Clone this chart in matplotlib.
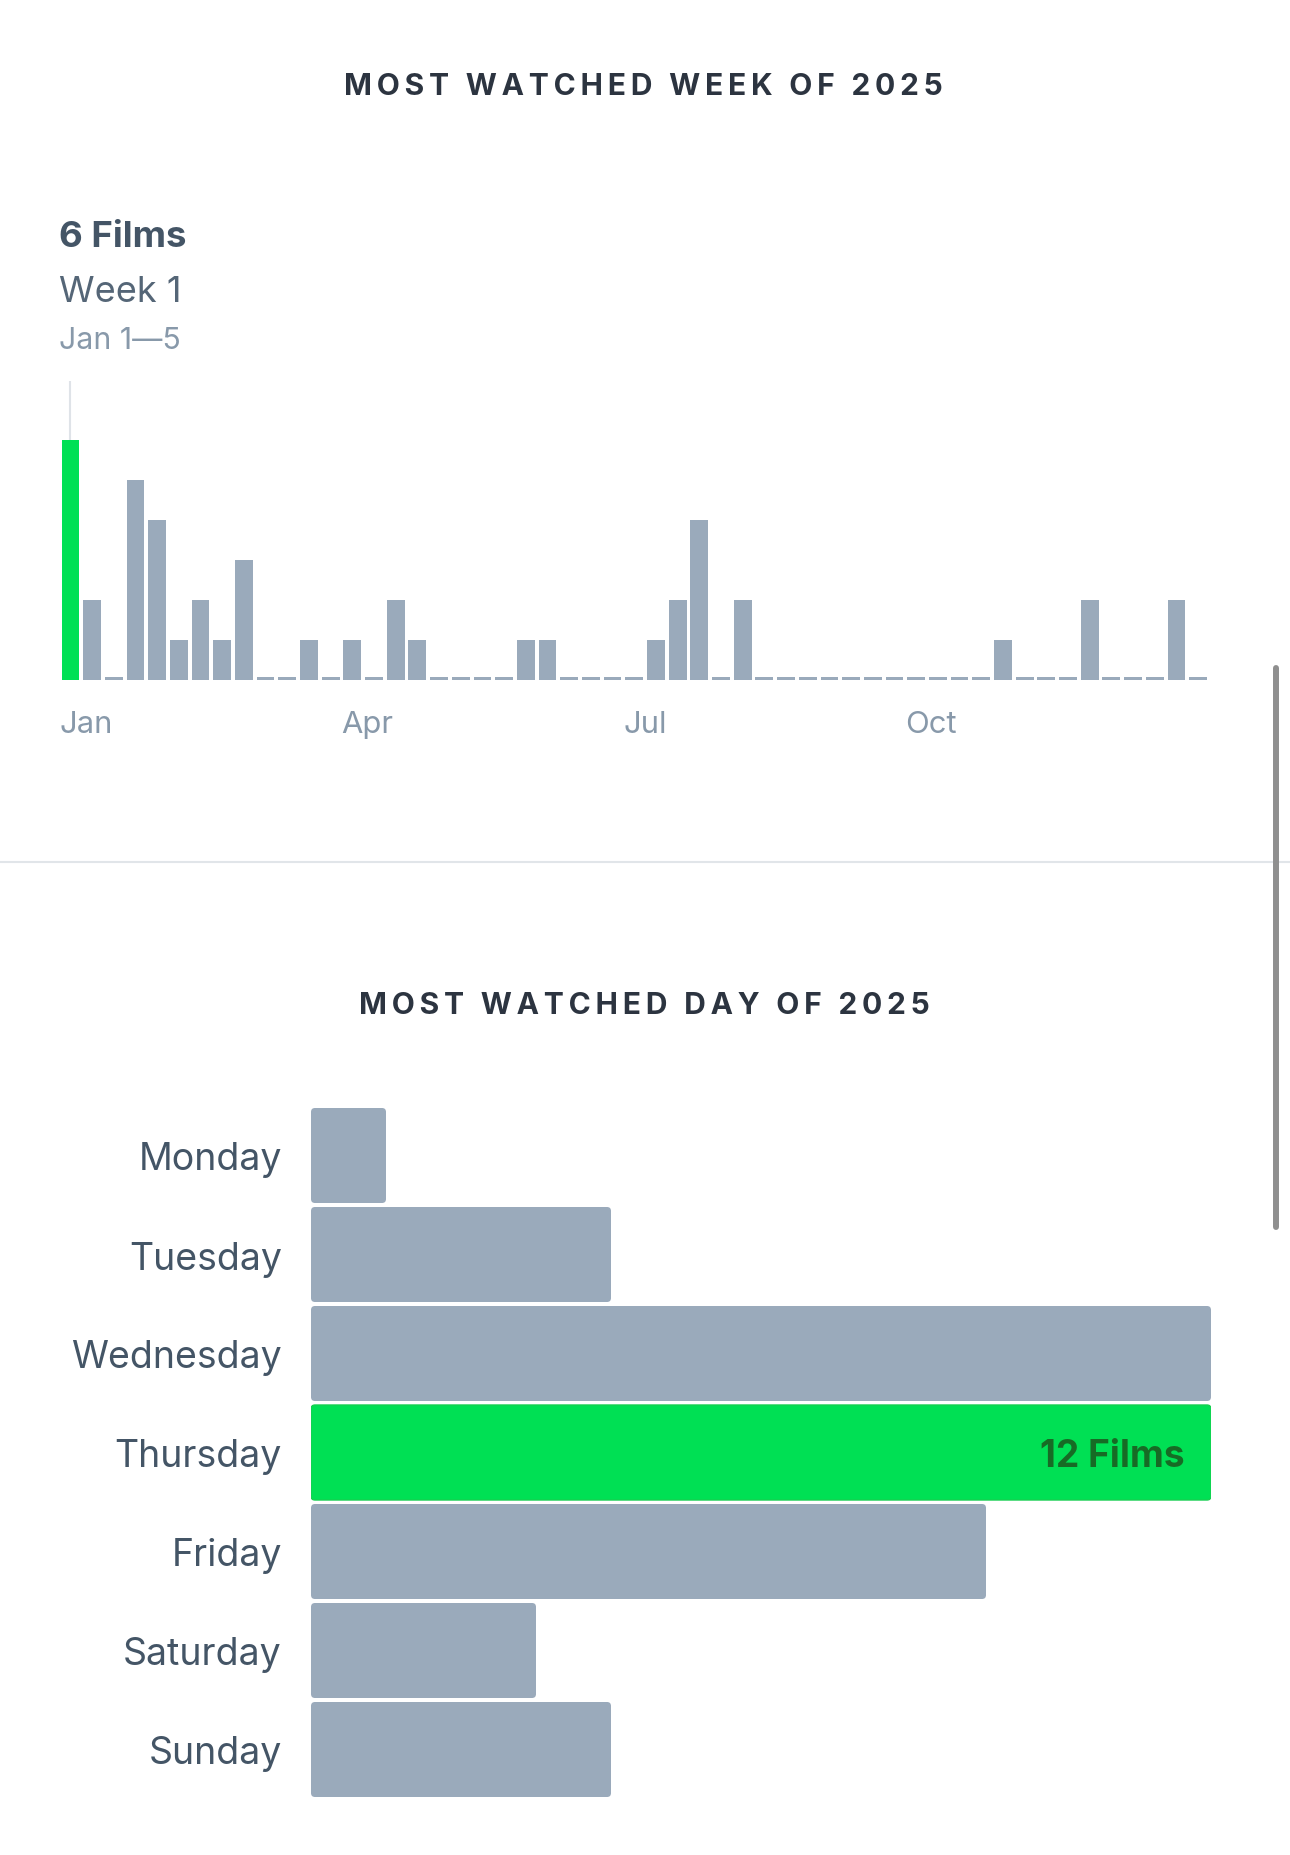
import matplotlib
matplotlib.use("Agg")
import matplotlib.pyplot as plt
from matplotlib.patches import FancyBboxPatch
from matplotlib.lines import Line2D
from matplotlib.transforms import blended_transform_factory

# DATA -------------------------------------------------------------
week_counts = [6, 2, 0, 5, 4, 1, 2, 1, 3, 0, 0, 1, 0, 1, 0, 2, 1, 0, 0, 0,
               0, 1, 1, 0, 0, 0, 0, 1, 2, 4, 0, 2, 0, 0, 0, 0, 0, 0, 0, 0,
               0, 0, 0, 1, 0, 0, 0, 2, 0, 0, 0, 2, 0]
month_labels = ["Jan", "Apr", "Jul", "Oct"]
month_weeks = [0, 13, 26, 39]   # first week index of each labelled month

days = ["Monday", "Tuesday", "Wednesday", "Thursday", "Friday", "Saturday", "Sunday"]
day_counts = [1, 4, 12, 12, 9, 3, 4]
top_day = "Thursday"

top_week_label = "Week 1"
top_week_range = "Jan 1\u20145"

# STYLE ------------------------------------------------------------
W, H = 1290, 1856
GREEN = "#00e054"
GREY = "#9aaabb"
DARK = "#2c3440"
TXT = "#445566"
LIGHT = "#8899aa"
FONT = ["Inter", "DejaVu Sans"]

plt.rcParams["font.family"] = FONT

fig = plt.figure(figsize=(W / 100, H / 100), dpi=100)
fig.patch.set_facecolor("white")


def fy(py):  # pixel from top -> figure fraction
    return 1 - py / H


def tracked(s, sep="\u2009"):
    return sep.join(s)


# MOST WATCHED WEEK --------------------------------------------------
fig.text(643 / W, fy(95), tracked("MOST WATCHED WEEK OF 2025"), ha="center",
         va="baseline", fontsize=21.6, fontweight="bold", color=DARK)

top_i = week_counts.index(max(week_counts))
fig.text(59 / W, fy(247), f"{max(week_counts)} Films", fontsize=26.4,
         fontweight="bold", color=TXT, va="baseline")
fig.text(59 / W, fy(302), top_week_label, fontsize=26, color="#556677", va="baseline")
fig.text(59 / W, fy(349), top_week_range, fontsize=21.8, color=LIGHT, va="baseline")

bw = 0.82
ax1 = fig.add_axes([61.5 / W, fy(681), 1145.5 / W, 299 / H])
stub = 3 / 40
heights = [v if v > 0 else stub for v in week_counts]
cols = [GREEN if i == top_i else GREY for i in range(len(week_counts))]
ax1.bar(range(len(week_counts)), heights, width=bw, color=cols, linewidth=0)
ax1.set_xlim(-bw / 2, len(week_counts) - 1 + bw / 2)
ax1.set_ylim(0, 299 / 40)
ax1.plot([top_i, top_i], [max(week_counts), 299 / 40], color="#dfe3e8", lw=1.5,
         zorder=0)
ax1.axis("off")

tr = blended_transform_factory(ax1.transData, fig.transFigure)
for lab, wk in zip(month_labels, month_weeks):
    ax1.text(wk - bw / 2 - 0.1, fy(733), lab, transform=tr, ha="left", va="baseline",
             fontsize=22.3, color=LIGHT)

# separator and scrollbar
fig.add_artist(Line2D([0, 1], [fy(863), fy(863)], color="#e1e5e9", lw=1.5))
fig.add_artist(Line2D([1276 / W, 1276 / W], [fy(669), fy(1228)], color="#8f8f8f",
                      lw=4.3, solid_capstyle="round"))

# MOST WATCHED DAY ---------------------------------------------------
fig.text(644.5 / W, fy(1014.5), tracked("MOST WATCHED DAY OF 2025"), ha="center",
         va="baseline", fontsize=21.6, fontweight="bold", color=DARK)

ax2 = fig.add_axes([311 / W, fy(1800), 900 / W, 693 / H])
bh = 95 / 99
dcols = [GREEN if d == top_day else GREY for d in days]
bars = ax2.barh(range(len(days)), day_counts, height=bh, color=dcols, linewidth=0)
ax2.set_xlim(0, max(day_counts))
ax2.set_ylim(len(days) - 0.5, -0.5)

# rounded corners on the bars
r = 4 / 75
for rect, c, d in zip(bars.patches, dcols, days):
    x0, y0 = rect.get_x(), rect.get_y()
    w, h = rect.get_width(), rect.get_height()
    rect.set_visible(False)
    p = FancyBboxPatch((x0, y0), w, h, boxstyle=f"round,pad=0,rounding_size={r}",
                       mutation_aspect=75 / 99, facecolor=c,
                       edgecolor="#16cf50" if d == top_day else "none",
                       lw=1.0)
    ax2.add_patch(p)

ti = days.index(top_day)
ax2.text(day_counts[ti] - 26 / 75, ti, f"{day_counts[ti]} Films", ha="right",
         va="center_baseline", fontsize=26.7, fontweight="bold", color="#176b25")

ax2.set_yticks(range(len(days)))
ax2.set_yticklabels(days, fontsize=27, color=TXT)
ax2.tick_params(axis="y", length=0, pad=20.9)
ax2.set_xticks([])
for s in ax2.spines.values():
    s.set_visible(False)

fig.savefig("out.png", dpi=100)
